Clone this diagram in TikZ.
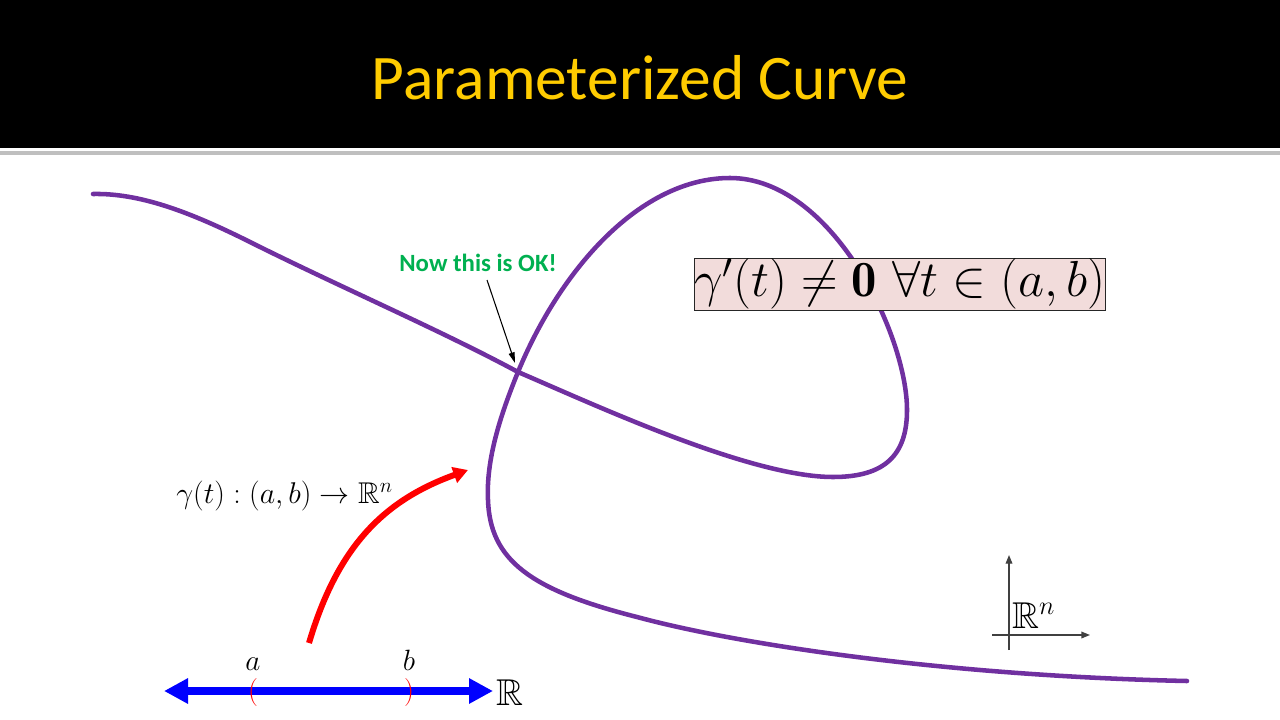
\RequirePackage{fix-cm}
\documentclass[tikz,border=0pt]{standalone}
\usepackage{amsmath,amssymb}
\usepackage{fontspec}
\newfontfamily\calibri{Carlito}
\usetikzlibrary{arrows.meta}
\definecolor{titleyellow}{RGB}{255,204,0}
\definecolor{curvepurple}{RGB}{112,48,160}
\definecolor{okgreen}{RGB}{0,176,80}
\definecolor{boxpink}{RGB}{242,220,219}
\definecolor{axisgrey}{RGB}{64,64,64}
\definecolor{rulegrey}{RGB}{191,191,191}
\tikzset{
  curvestyle/.style={draw=curvepurple, line width=3.4pt, line cap=round},
  mathlabel/.style={inner sep=0pt},
  axisline/.style={draw=axisgrey, line width=1pt, -{Triangle[length=6.5pt,width=5pt]}},
  blueline/.style={draw=blue, line width=6pt, {Triangle[length=18pt,width=18pt]}-{Triangle[length=18pt,width=18pt]}},
  redarrow/.style={draw=red, line width=4.5pt, -{Triangle[length=11pt,width=12pt]}},
  callout/.style={draw=black, line width=0.8pt, -{Triangle[length=8pt,width=4.5pt]}},
}
\begin{document}
\begin{tikzpicture}[x=0.75pt,y=-0.75pt]
\useasboundingbox (0,0) rectangle (1280,720);
% title band
\fill[black] (0,0) rectangle (1280,148);
\fill[rulegrey] (0,151) rectangle (1280,155);
\node[anchor=base, inner sep=0pt, text=titleyellow, font=\calibri\fontsize{47.6}{52}\selectfont] (title) at (640,100) {Parameterized Curve};

% the curve
\draw[curvestyle] (93,194)
  .. controls (140,193) and (190,212) .. (250,242)
  .. controls (340,287) and (440,330) .. (518,372)
  .. controls (595,405) and (750,477) .. (833,477)
  .. controls (885,477) and (907,455) .. (907,410)
  .. controls (907,335) and (832,178) .. (730,178)
  .. controls (640,178) and (560,270) .. (518,372)
  .. controls (500,416) and (486,460) .. (488,500)
  .. controls (490,560) and (530,590) .. (637,617)
  .. controls (740,645) and (950,676) .. (1187,681);

% condition box
\node[draw=black!85, line width=0.75pt, fill=boxpink, minimum width=307.5pt, minimum height=39pt, inner sep=0pt,
      font=\fontsize{38}{42}\selectfont] (cond) at (900,284)
      {$\gamma'(t) \neq \mathbf{0}\ \forall t \in (a,b)$};

% callout
\node[anchor=base, inner sep=0pt, text=okgreen, font=\calibri\bfseries\fontsize{18.6}{22}\selectfont] (ok) at (478,272) {Now this is OK!};
\coordinate (okfrom) at (487,280);
\coordinate (cross) at (515,363);
\draw[callout] (okfrom) -- (cross);

% map label
\node[anchor=base west, mathlabel, font=\fontsize{22.5}{26}\selectfont] (map) at (176,503) {$\gamma(t) : (a,b) \to \mathbb{R}^n$};

% red arrow
\coordinate (gs) at (309,643);
\coordinate (ge) at (468,470);
\draw[redarrow] (gs) .. controls (338,545) and (385,500) .. (ge);

% real line
\coordinate (lineL) at (164,691);
\coordinate (lineR) at (493,691);
\draw[blueline] (lineL) -- (lineR);
\node[anchor=base, mathlabel, text=red, font=\fontsize{21}{25}\selectfont] (pa) at (253,699) {$($};
\node[anchor=base, mathlabel, text=red, font=\fontsize{21}{25}\selectfont] (pb) at (409,699) {$)$};
\node[anchor=base, mathlabel, font=\fontsize{22}{26}\selectfont] (la) at (253,670) {$a$};
\node[anchor=base, mathlabel, font=\fontsize{22}{26}\selectfont] (lb) at (409,670) {$b$};
\node[anchor=base west, mathlabel, font=\fontsize{28}{32}\selectfont] (R1) at (496,705) {$\mathbb{R}$};

% axes
\coordinate (vb) at (1009,650);
\coordinate (vt) at (1009,555);
\coordinate (hl) at (992,635);
\coordinate (hr) at (1090,635);
\draw[axisline] (vb) -- (vt);
\draw[axisline] (hl) -- (hr);
\node[anchor=base west, mathlabel, font=\fontsize{28}{32}\selectfont] (Rn) at (1012,628) {$\mathbb{R}^n$};
\end{tikzpicture}
\end{document}
